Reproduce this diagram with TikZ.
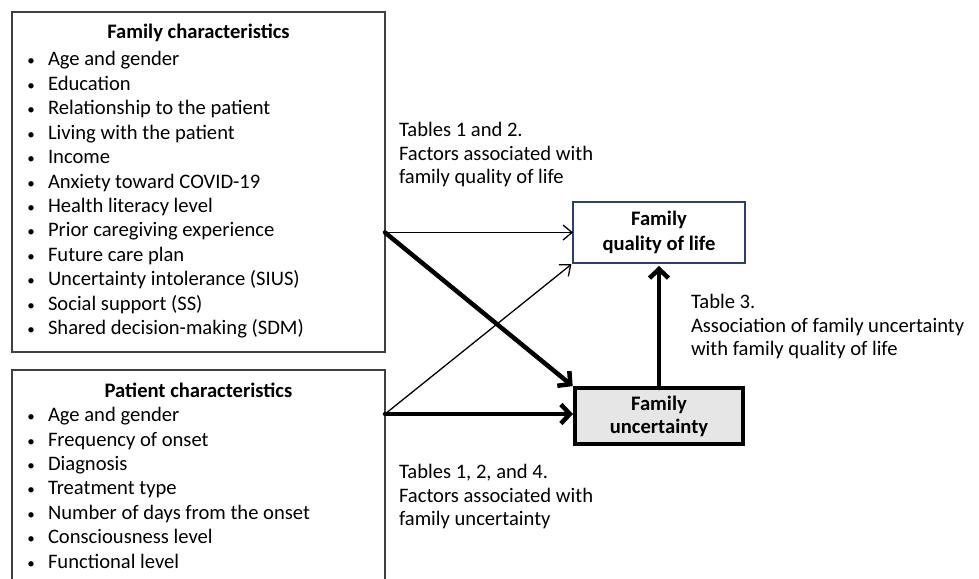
\documentclass[tikz,border=0pt]{standalone}
\usepackage{fontspec}
\setmainfont{Carlito}
\usetikzlibrary{arrows.meta}
\definecolor{navy}{RGB}{47,64,110}
\definecolor{boxgray}{RGB}{230,230,230}
\definecolor{edgegray}{RGB}{64,64,64}
\begin{document}
\begin{tikzpicture}[x=1pt,y=-1pt,
  every node/.style={font=\fontsize{20.6}{24.4}\selectfont, inner sep=0pt, outer sep=0pt},
  txt/.style={anchor=base west},
  ttl/.style={anchor=base, font=\fontsize{20.6}{24.4}\selectfont\bfseries},
  bul/.style={anchor=base, font=\fontsize{15}{24.4}\selectfont},
  charbox/.style={draw=edgegray, line width=1.3pt, minimum width=373pt},
  qolbox/.style={draw=navy, line width=1.3pt, fill=white, font=\fontsize{20.6}{24.6}\selectfont\bfseries, align=center, minimum width=172pt, minimum height=61pt},
  uncbox/.style={draw=black, line width=4pt, fill=boxgray, font=\fontsize{20.6}{23}\selectfont\bfseries, align=center, minimum width=168pt, minimum height=56pt},
  lightarrow/.style={line width=1.3pt, -{Straight Barb[length=9pt,width=15pt]}},
  heavyarrow/.style={line width=4.5pt, line cap=round, -{Straight Barb[length=9pt,width=19pt]}}
]
\useasboundingbox (0,0) rectangle (979,578);
\clip (0,0) rectangle (979,578);

% boxes
\node[charbox, minimum height=340pt] (fam) at (198.5,182) {};
\node[charbox, minimum height=220pt] (pat) at (198.5,480) {};
\node[qolbox] (qol) at (659,232.5) {Family\\quality of life};
\node[uncbox] (unc) at (659,416) {Family\\uncertainty};

% titles
\node[ttl] (famtitle) at (198.5,39) {Family characteristics};
\node[ttl] (pattitle) at (198.5,397) {Patient characteristics};

% lists
\foreach \t [count=\i] in {Age and gender, Education, Relationship to the patient, Living with the patient, Income, Anxiety toward COVID-19, Health literacy level, Prior caregiving experience, Future care plan, Uncertainty intolerance (SIUS), Social support (SS), Shared decision-making (SDM)} {
  \node[bul] (fb\i) at (31,{66+24.4*(\i-1)}) {•};
  \node[txt] (fi\i) at (48,{66+24.4*(\i-1)}) {\t};
}
\foreach \t [count=\i] in {Age and gender, Frequency of onset, Diagnosis, Treatment type, Number of days from the onset, Consciousness level, Functional level} {
  \node[bul] (pb\i) at (31,{421.6+24.4*(\i-1)}) {•};
  \node[txt] (pi\i) at (48,{421.6+24.4*(\i-1)}) {\t};
}

% labels
\node[txt] (la1) at (399,136) {Tables 1 and 2.};
\node[txt] (la2) at (399,160) {Factors associated with};
\node[txt] (la3) at (399,183) {family quality of life};
\node[txt] (lb1) at (691,308) {Table 3.};
\node[txt] (lb2) at (691,332) {Association of family uncertainty};
\node[txt] (lb3) at (691,355) {with family quality of life};
\node[txt] (lc1) at (399,478) {Tables 1, 2, and 4.};
\node[txt] (lc2) at (399,502) {Factors associated with};
\node[txt] (lc3) at (399,525) {family uncertainty};

% connectors
\coordinate (fs) at (fam.east |- qol.west);
\coordinate (ps) at (385,414);
\draw[lightarrow] (fs) -- (qol.west);
\draw[heavyarrow, shorten >=3pt] (fs) -- (unc.north west);
\draw[lightarrow, shorten >=2pt] (ps) -- (qol.south west);
\draw[heavyarrow, shorten >=2pt] (ps) -- (unc.west |- ps);
\draw[heavyarrow, shorten >=3pt] (unc.north) -- (qol.south);
\end{tikzpicture}
\end{document}
